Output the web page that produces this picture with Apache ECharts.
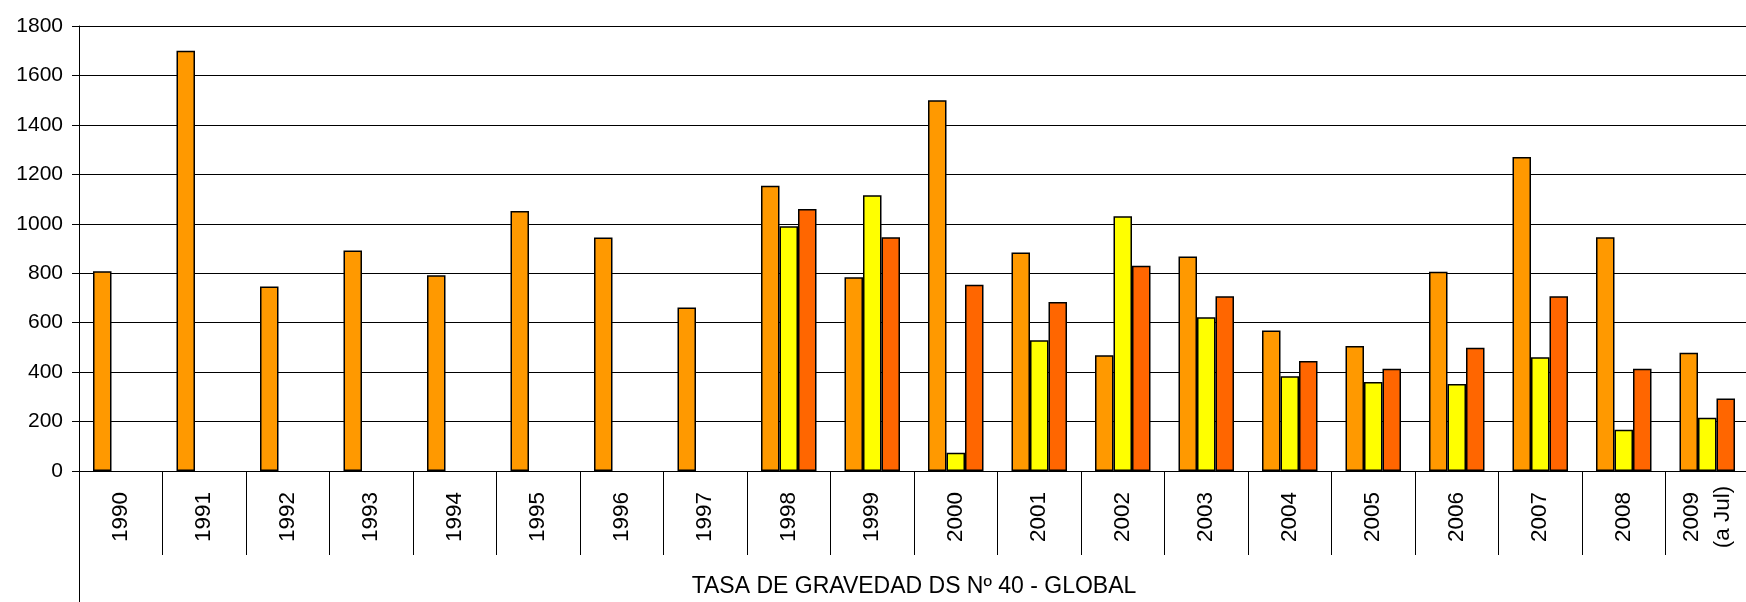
<!DOCTYPE html>
<html>
<head>
<meta charset="utf-8">
<script src="https://cdn.jsdelivr.net/npm/echarts@6/dist/echarts.min.js"></script>
<style>
html,body{margin:0;padding:0;background:#fff;}
#chart{width:1746px;height:602px;}
</style>
</head>
<body>
<div id="chart"></div>
<script>
var categories = ['1990','1991','1992','1993','1994','1995','1996','1997','1998','1999','2000','2001','2002','2003','2004','2005','2006','2007','2008','2009\n(a Jul)'];
var seriesA = [808,1700,746,892,792,1052,945,661,1154,784,1500,884,468,868,568,506,806,1270,946,478];
var seriesB = [null,null,null,null,null,null,null,null,990,1115,74,529,1030,622,383,360,352,460,167,215];
var seriesC = [null,null,null,null,null,null,null,null,1060,946,753,684,830,707,445,414,499,707,414,293];
var yTicks = {min:0, max:1800, interval:200};
var axisTitle = 'TASA DE GRAVEDAD DS Nº 40 - GLOBAL';

var FONT = '"Liberation Sans", Arial, sans-serif';
var chart = echarts.init(document.getElementById('chart'), null, {renderer:'canvas'});
function bar(name, data, color){
  return {
    name:name, type:'bar', data:data, xAxisIndex:0, yAxisIndex:0,
    barWidth:18.5, barGap:'0%',
    itemStyle:{color:color, borderColor:'#000', borderWidth:1.5},
    animation:false
  };
}
chart.setOption({
  animation:false,
  grid:{left:79, right:-3, top:26, bottom:131, containLabel:false, outerBoundsMode:'none'},
  xAxis:[{
    type:'category', data:categories, position:'bottom',
    axisLine:{show:true, lineStyle:{color:'#000', width:1}},
    axisTick:{show:true, length:84, lineStyle:{color:'#000', width:1}},
    axisLabel:{rotate:90, align:'center', verticalAlign:'middle', margin:46, fontSize:22.5, fontFamily:FONT, color:'#000', lineHeight:31, interval:0},
    name:axisTitle, nameLocation:'middle', nameGap:116,
    nameTextStyle:{fontSize:23, fontFamily:FONT, color:'#000', verticalAlign:'middle', align:'center'}
  },{
    type:'category', data:categories, position:'bottom', gridIndex:0,
    axisLine:{show:false}, axisLabel:{show:false},
    axisTick:{show:true, length:140, interval:function(i){return i===0;}, lineStyle:{color:'#000', width:1}}
  }],
  yAxis:[{
    type:'value', min:yTicks.min, max:yTicks.max, interval:yTicks.interval,
    axisLine:{show:true, lineStyle:{color:'#000', width:1}},
    axisTick:{show:true, length:7, lineStyle:{color:'#000'}},
    axisLabel:{fontSize:21, fontFamily:FONT, color:'#000', margin:16, formatter:function(v){return String(v);}},
    splitLine:{show:true, lineStyle:{color:'#000', width:1}}
  }],
  series:[bar('A', seriesA, '#FF9900'), bar('B', seriesB, '#FFFF00'), bar('C', seriesC, '#FF6600')]
});
</script>
</body>
</html>
